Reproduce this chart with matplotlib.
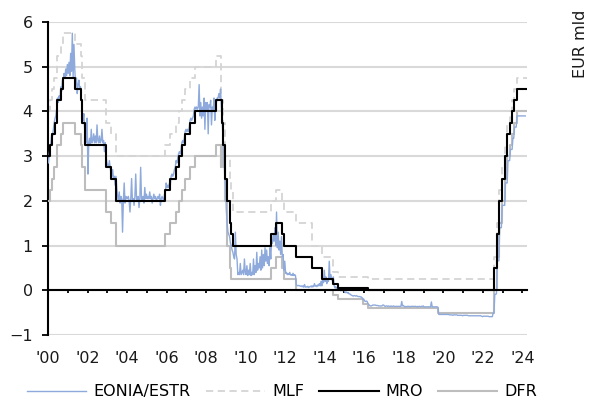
import numpy as np
import pandas as pd
import matplotlib
matplotlib.use('Agg')
import matplotlib.pyplot as plt
from matplotlib.ticker import FixedLocator, FixedFormatter

plt.rcParams['font.family'] = 'DejaVu Sans'
plt.rcParams['font.size'] = 11.5

# ECB policy rates: date the new level applies from, level in %
mro_dates = ['2000-01-01', '2000-02-09', '2000-03-22', '2000-05-04', '2000-06-15', '2000-09-06',
             '2000-10-11', '2001-05-15', '2001-09-05', '2001-09-18', '2001-11-14', '2002-12-11',
             '2003-03-12', '2003-06-09', '2005-12-06', '2006-03-08', '2006-06-15', '2006-08-09',
             '2006-10-11', '2006-12-13', '2007-03-14', '2007-06-13', '2008-07-09', '2008-10-15',
             '2008-11-12', '2008-12-10', '2009-01-21', '2009-03-11', '2009-04-08', '2009-05-13',
             '2011-04-13', '2011-07-13', '2011-11-09', '2011-12-14', '2012-07-11', '2013-05-08',
             '2013-11-13', '2014-06-11', '2014-09-10', '2016-03-16', '2022-07-27', '2022-09-14',
             '2022-11-02', '2022-12-21', '2023-02-08', '2023-03-22', '2023-05-10', '2023-06-21',
             '2023-08-02', '2023-09-20']
mro_vals = [3.00, 3.25, 3.50, 3.75, 4.25, 4.50,
            4.75, 4.50, 4.25, 3.75, 3.25, 2.75,
            2.50, 2.00, 2.25, 2.50, 2.75, 3.00,
            3.25, 3.50, 3.75, 4.00, 4.25, 3.75,
            3.25, 2.50, 2.00, 1.50, 1.25, 1.00,
            1.25, 1.50, 1.25, 1.00, 0.75, 0.50,
            0.25, 0.15, 0.05, 0.00, 0.50, 1.25,
            2.00, 2.50, 3.00, 3.50, 3.75, 4.00,
            4.25, 4.50]

corr_dates = ['2000-01-01', '2000-02-04', '2000-03-17', '2000-04-28', '2000-06-09', '2000-09-01',
              '2000-10-06', '2001-05-11', '2001-08-31', '2001-09-18', '2001-11-09', '2002-12-06',
              '2003-03-07', '2003-06-06', '2005-12-06', '2006-03-08', '2006-06-15', '2006-08-09',
              '2006-10-11', '2006-12-13', '2007-03-14', '2007-06-13', '2008-07-09', '2008-10-08',
              '2008-10-09', '2008-11-12', '2008-12-10', '2009-01-21', '2009-03-11', '2009-04-08',
              '2009-05-13', '2011-04-13', '2011-07-13', '2011-11-09', '2011-12-14', '2012-07-11',
              '2013-05-08', '2013-11-13', '2014-06-11', '2014-09-10', '2015-12-09', '2016-03-16',
              '2019-09-18', '2022-07-27', '2022-09-14', '2022-11-02', '2022-12-21', '2023-02-08',
              '2023-03-22', '2023-05-10', '2023-06-21', '2023-08-02', '2023-09-20']
mlf_vals = [4.00, 4.25, 4.50, 4.75, 5.25, 5.50,
            5.75, 5.50, 5.25, 4.75, 4.25, 3.75,
            3.50, 3.00, 3.25, 3.50, 3.75, 4.00,
            4.25, 4.50, 4.75, 5.00, 5.25, 4.75,
            4.25, 3.75, 3.00, 3.00, 2.50, 2.25,
            1.75, 2.00, 2.25, 2.00, 1.75, 1.50,
            1.00, 0.75, 0.40, 0.30, 0.30, 0.25,
            0.25, 0.75, 1.50, 2.25, 2.75, 3.25,
            3.75, 4.00, 4.25, 4.50, 4.75]
dfr_vals = [2.00, 2.25, 2.50, 2.75, 3.25, 3.50,
            3.75, 3.50, 3.25, 2.75, 2.25, 1.75,
            1.50, 1.00, 1.25, 1.50, 1.75, 2.00,
            2.25, 2.50, 2.75, 3.00, 3.25, 2.75,
            3.25, 2.75, 2.00, 1.00, 0.50, 0.25,
            0.25, 0.50, 0.75, 0.50, 0.25, 0.00,
            0.00, 0.00, -0.10, -0.20, -0.30, -0.40,
            -0.50, 0.00, 0.75, 1.50, 2.00, 2.50,
            3.00, 3.25, 3.50, 3.75, 4.00]

# EONIA (to 2019) / ESTR, two readings per month
eonia = {
    2000: [2.85, 3.05, 3.20, 3.30, 3.50, 3.45, 3.60, 3.75, 3.85, 3.90, 4.05, 4.30,
           4.20, 4.35, 4.25, 4.55, 4.45, 4.70, 4.70, 4.85, 4.75, 4.95, 4.80, 5.05],
    2001: [4.85, 5.10, 4.80, 5.30, 4.90, 5.75, 4.75, 5.50, 4.95, 4.60, 4.75, 4.40,
           4.60, 4.70, 4.50, 4.55, 4.30, 4.00, 3.80, 3.95, 3.60, 3.40, 3.30, 3.85],
    2002: [2.60, 3.30, 3.40, 3.25, 3.60, 3.30, 3.35, 3.50, 3.30, 3.45, 3.30, 3.70,
           3.35, 3.30, 3.45, 3.30, 3.35, 3.60, 3.30, 3.35, 3.10, 3.30, 3.00, 2.85],
    2003: [2.80, 2.75, 2.90, 2.75, 2.60, 2.55, 2.70, 2.50, 2.55, 2.35, 2.55, 2.30,
           2.10, 2.00, 2.20, 1.95, 2.10, 2.05, 1.30, 2.00, 2.40, 1.95, 2.10, 2.05],
    2004: [2.05, 2.10, 2.00, 1.75, 2.05, 2.50, 2.00, 2.05, 1.90, 2.10, 2.60, 2.05,
           2.00, 2.10, 1.85, 2.05, 2.75, 2.05, 2.00, 2.10, 1.95, 2.30, 2.05, 2.15],
    2005: [2.05, 2.10, 2.05, 2.20, 2.05, 2.10, 1.95, 2.05, 2.15, 2.05, 2.10, 2.00,
           2.05, 2.10, 2.05, 2.15, 1.90, 2.05, 2.10, 2.05, 2.00, 2.15, 2.20, 2.40],
    2006: [2.30, 2.35, 2.30, 2.40, 2.35, 2.55, 2.60, 2.55, 2.60, 2.70, 2.75, 2.90,
           2.85, 2.95, 3.05, 3.10, 3.05, 3.15, 3.30, 3.35, 3.30, 3.40, 3.55, 3.60],
    2007: [3.55, 3.60, 3.55, 3.65, 3.80, 3.85, 3.80, 3.85, 3.90, 4.05, 4.10, 4.05,
           4.10, 4.05, 4.10, 4.60, 3.90, 4.20, 3.85, 4.10, 3.90, 4.30, 3.60, 4.20],
    2008: [4.00, 4.20, 3.50, 4.15, 4.10, 4.25, 3.70, 4.10, 4.00, 4.30, 3.80, 4.05,
           4.20, 4.30, 4.30, 4.40, 4.30, 4.50, 4.10, 3.80, 3.40, 3.20, 2.60, 2.40],
    2009: [1.80, 1.50, 1.30, 1.25, 1.20, 1.05, 1.00, 0.90, 0.85, 0.75, 0.70, 1.30,
           0.80, 0.70, 0.35, 0.40, 0.35, 0.60, 0.35, 0.40, 0.45, 0.35, 0.70, 0.40],
    2010: [0.35, 0.55, 0.33, 0.45, 0.35, 0.60, 0.33, 0.40, 0.35, 0.70, 0.35, 0.55,
           0.40, 0.85, 0.45, 0.60, 0.50, 0.75, 0.45, 0.90, 0.50, 0.80, 0.55, 0.95],
    2011: [0.65, 0.90, 0.60, 0.75, 0.55, 0.95, 0.70, 1.10, 1.05, 1.25, 1.10, 1.40,
           1.00, 1.75, 0.95, 1.30, 0.90, 1.10, 0.80, 1.20, 0.75, 0.80, 0.45, 0.65],
    2012: [0.38, 0.40, 0.35, 0.37, 0.35, 0.40, 0.34, 0.35, 0.33, 0.38, 0.33, 0.35,
           0.33, 0.12, 0.11, 0.10, 0.11, 0.10, 0.09, 0.10, 0.08, 0.10, 0.07, 0.13],
    2013: [0.07, 0.08, 0.07, 0.09, 0.06, 0.08, 0.08, 0.10, 0.07, 0.10, 0.08, 0.15,
           0.09, 0.11, 0.08, 0.12, 0.10, 0.15, 0.10, 0.20, 0.10, 0.25, 0.17, 0.45],
    2014: [0.20, 0.30, 0.15, 0.25, 0.20, 0.65, 0.25, 0.35, 0.25, 0.20, 0.30, 0.10,
           0.05, 0.08, 0.03, 0.05, 0.02, 0.00, 0.01, -0.01, 0.00, -0.01, 0.00, 0.05],
    2015: [-0.05, -0.05, -0.04, -0.06, -0.05, -0.08, -0.08, -0.10, -0.11, -0.12, -0.13, -0.12,
           -0.12, -0.13, -0.12, -0.13, -0.14, -0.14, -0.14, -0.15, -0.15, -0.17, -0.21, -0.20],
    2016: [-0.24, -0.25, -0.24, -0.25, -0.30, -0.32, -0.34, -0.35, -0.35, -0.34, -0.33, -0.33,
           -0.33, -0.33, -0.34, -0.34, -0.34, -0.35, -0.35, -0.35, -0.35, -0.35, -0.33, -0.33],
    2017: [-0.35, -0.36, -0.35, -0.35, -0.36, -0.35, -0.36, -0.36, -0.35, -0.36, -0.36, -0.35,
           -0.36, -0.36, -0.36, -0.36, -0.36, -0.36, -0.36, -0.36, -0.36, -0.25, -0.35, -0.34],
    2018: [-0.36, -0.37, -0.36, -0.37, -0.36, -0.36, -0.36, -0.37, -0.36, -0.36, -0.36, -0.36,
           -0.36, -0.36, -0.36, -0.37, -0.36, -0.37, -0.36, -0.36, -0.37, -0.36, -0.36, -0.35],
    2019: [-0.37, -0.37, -0.37, -0.37, -0.37, -0.37, -0.37, -0.37, -0.37, -0.26, -0.37, -0.37,
           -0.37, -0.37, -0.37, -0.37, -0.37, -0.38, -0.54, -0.54, -0.54, -0.54, -0.54, -0.54],
    2020: [-0.54, -0.54, -0.54, -0.54, -0.54, -0.54, -0.54, -0.55, -0.55, -0.55, -0.55, -0.56,
           -0.55, -0.55, -0.55, -0.55, -0.55, -0.56, -0.56, -0.56, -0.56, -0.56, -0.56, -0.57],
    2021: [-0.56, -0.56, -0.56, -0.56, -0.56, -0.56, -0.57, -0.57, -0.57, -0.57, -0.57, -0.57,
           -0.57, -0.57, -0.57, -0.57, -0.57, -0.57, -0.57, -0.57, -0.57, -0.57, -0.58, -0.59],
    2022: [-0.58, -0.58, -0.58, -0.58, -0.58, -0.58, -0.58, -0.59, -0.59, -0.59, -0.59, -0.59,
           -0.51, -0.51, -0.09, -0.09, -0.08, 0.66, 0.66, 0.66, 1.40, 1.40, 1.40, 1.90],
    2023: [1.90, 1.90, 1.90, 2.40, 2.40, 2.40, 2.90, 2.90, 2.90, 3.15, 3.15, 3.15,
           3.40, 3.40, 3.65, 3.65, 3.65, 3.90, 3.90, 3.90, 3.90, 3.90, 3.90, 3.90],
    2024: [3.90, 3.90, 3.90, 3.90],
}

x_end = 2024.21
year_ticks = list(range(2000, 2025, 2))
year_labels = ["'%02d" % (y % 100) for y in year_ticks]


def to_year(s):
    d = pd.Timestamp(s)
    n = 366 if d.is_leap_year else 365
    return d.year + (d.dayofyear - 1) / n


def step_xy(dates, vals):
    x = [to_year(d) for d in dates] + [x_end]
    y = list(vals) + [vals[-1]]
    return x, y


ex, ey = [], []
for yr, vals in eonia.items():
    for i, v in enumerate(vals):
        ex.append(yr + (i + 0.5) / 24)
        ey.append(v)

fig = plt.figure(figsize=(5.92, 4.07), dpi=100)
ax = fig.add_axes([0.0811, 0.1769, 0.8083, 0.7690])

mx, my = step_xy(corr_dates, mlf_vals)
dx, dy = step_xy(corr_dates, dfr_vals)
rx, ry = step_xy(mro_dates, mro_vals)

l_mlf, = ax.step(mx, my, where='post', color='#d4d4d4', lw=1.3, ls=(0, (4, 2.5)), label='MLF', zorder=2)
l_dfr, = ax.step(dx, dy, where='post', color='#bdbdbd', lw=1.5, label='DFR', zorder=3)
l_eon, = ax.plot(ex, ey, color='#8eaadc', lw=1.0, label='EONIA/ESTR', zorder=4)
l_mro, = ax.step(rx, ry, where='post', color='black', lw=1.5, label='MRO', zorder=5)

ax.set_xlim(2000, x_end)
ax.set_ylim(-1, 6)
ax.set_yticks(range(-1, 7))
ax.grid(axis='y', color='#d9d9d9', lw=1.5)
ax.set_axisbelow(True)

for s in ['top', 'right']:
    ax.spines[s].set_visible(False)
ax.spines['left'].set_linewidth(1.5)
ax.spines['bottom'].set_linewidth(1.5)
ax.spines['bottom'].set_position(('data', 0))
ax.spines['bottom'].set_zorder(6)

ax.xaxis.set_major_locator(FixedLocator(year_ticks))
ax.xaxis.set_major_formatter(FixedFormatter(year_labels))
ax.xaxis.set_minor_locator(FixedLocator(range(2001, 2025, 2)))
ax.tick_params(axis='x', which='both', direction='out', length=2.5, width=1.3, pad=41, colors='black')
ax.tick_params(axis='x', which='major', labelcolor='#1a1a1a')
ax.tick_params(axis='y', direction='out', length=4, width=1.3, pad=7, labelcolor='#1a1a1a')

fig.text(0.981, 0.893, 'EUR mld', rotation=90, ha='center', va='center', color='#1a1a1a')

fig.legend(handles=[l_eon, l_mlf, l_mro, l_dfr], loc='center', bbox_to_anchor=(0.477, 0.037),
           ncol=4, frameon=False, handlelength=3.7, handletextpad=0.45, columnspacing=0.95)

plt.savefig('out.png', dpi=100)
